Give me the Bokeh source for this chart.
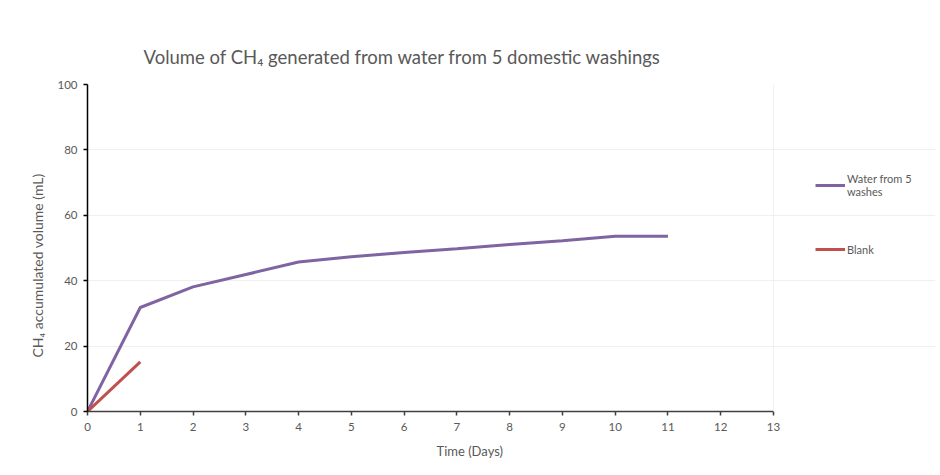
from bokeh.plotting import figure
from bokeh.models import FixedTicker, Range1d, Legend, LegendItem, Title, Span
from bokeh.embed import file_html
from bokeh.resources import INLINE

days_wash = [0, 1, 2, 4, 5, 6, 7, 8, 9, 10, 11]
vol_wash = [0, 31.8, 38.1, 45.7, 47.3, 48.6, 49.8, 51.1, 52.2, 53.6, 53.6]
days_blank = [0, 1]
vol_blank = [0, 15.2]
x_ticks = list(range(0, 14))
y_ticks = [0, 20, 40, 60, 80, 100]
x_max = 13

FONT = "Lato"
GREY = "#595959"

# plot area spans x 0..13 over 686 px; frame widened to hold the legend on the right
LEFT, RIGHT = 87, 5
frame_w = 940 - LEFT - RIGHT
x_end = x_max * frame_w / 686

p = figure(width=940, height=475, output_backend="svg", toolbar_location=None,
           x_range=Range1d(0, x_end), y_range=Range1d(0, 100),
           min_border_left=LEFT, min_border_right=RIGHT, min_border_top=84, min_border_bottom=64)
p.border_fill_color = "white"
p.background_fill_color = "white"
p.title.text = "Volume of CH\u2084 generated from water from 5 domestic washings"
p.title.text_font = FONT
p.title.text_font_size = "18.5px"
p.title.text_font_style = "normal"
p.title.text_color = GREY
p.title.align = "left"
p.title.offset = 56
p.title.standoff = 33
p.outline_line_color = None

r1 = p.line(days_wash, vol_wash, line_color="#8064A2", line_width=3)
r2 = p.line(days_blank, vol_blank, line_color="#C0504D", line_width=3)

p.xaxis.ticker = FixedTicker(ticks=x_ticks)
p.yaxis.ticker = FixedTicker(ticks=y_ticks)
p.xaxis.bounds = (0, x_max)
for ax in (p.xaxis, p.yaxis):
    ax.major_label_text_font = FONT
    ax.major_label_text_font_size = "11.5px"
    ax.major_label_text_color = GREY
    ax.minor_tick_line_color = None
    ax.major_tick_in = 0
    ax.major_tick_out = 4
    ax.axis_line_width = 1.5
    ax.major_tick_line_width = 1.5
p.xaxis.axis_line_color = "#404040"
p.xaxis.major_tick_line_color = "#404040"
p.yaxis.axis_line_color = "black"
p.yaxis.major_tick_line_color = "black"
p.xaxis.major_label_standoff = 7
p.yaxis.major_label_standoff = 6

xlabel = Title(text="Time (Days)", align="left", offset=349, standoff=14,
               text_font=FONT, text_font_size="13px", text_font_style="normal",
               text_color=GREY)
p.add_layout(xlabel, "below")
ylabel = Title(text="CH\u2084 accumulated volume (mL)", align="left", offset=54, standoff=17,
               text_font=FONT, text_font_size="14px", text_font_style="normal",
               text_color=GREY)
p.add_layout(ylabel, "left")

p.xgrid.grid_line_color = None
p.ygrid.grid_line_color = "#efefef"
p.ygrid.bounds = (0, x_max)
p.add_layout(Span(location=x_max, dimension="height", line_color="#f0f0f0", line_width=1))

legend = Legend(items=[LegendItem(label="Water from 5\nwashes", renderers=[r1]),
                       LegendItem(label="Blank", renderers=[r2])],
                location=(728, 155), orientation="vertical",
                glyph_width=30, glyph_height=14, label_standoff=2, spacing=44,
                label_text_font=FONT, label_text_font_size="11px", label_text_color=GREY,
                border_line_color=None, background_fill_alpha=0, padding=0, margin=0)
p.add_layout(legend)

open("out.html", "w").write(file_html(p, INLINE))
